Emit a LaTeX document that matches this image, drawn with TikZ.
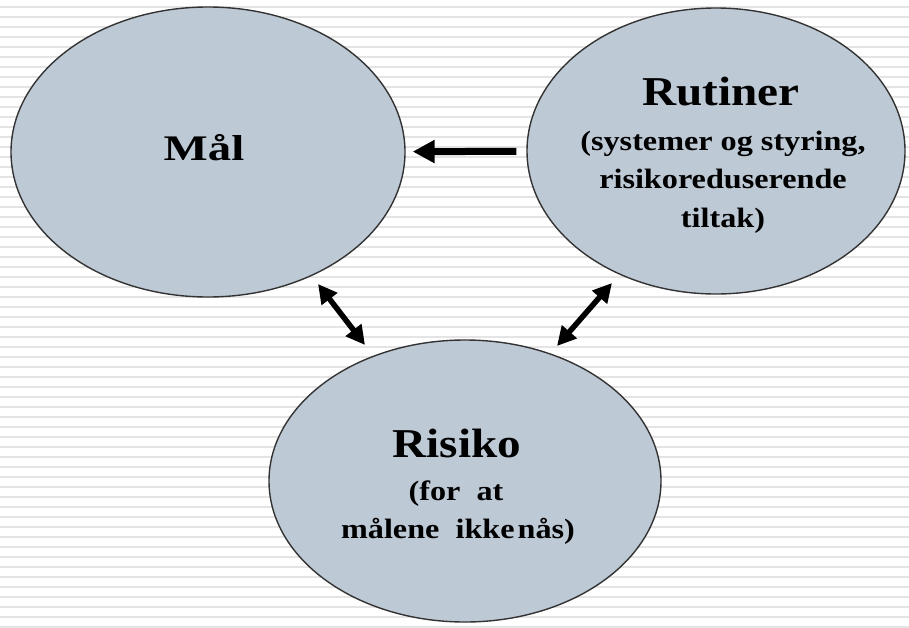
\documentclass[tikz,border=0pt]{standalone}
\usepackage{fontspec}
\setmainfont{Liberation Serif}
\newfontfamily\ttlfont[FakeStretch=1.15]{Liberation Serif}
\newfontfamily\malfont[FakeStretch=1.3]{Liberation Serif}
\newfontfamily\subfont[FakeStretch=1.15]{Liberation Serif}
\usetikzlibrary{shapes.geometric,arrows.meta}
\definecolor{ovalfill}{RGB}{190,201,214}
\definecolor{stripecol}{RGB}{228,228,228}
\begin{document}
\begin{tikzpicture}[x=1pt,y=-1pt,
  oval/.style={ellipse, draw=black!80, line width=1.4pt, fill=ovalfill, inner sep=0pt},
  titletext/.style={anchor=base, inner sep=0pt, font=\ttlfont\bfseries\fontsize{41}{41}\selectfont},
  subtext/.style={anchor=base, inner sep=0pt, font=\subfont\bfseries\fontsize{28}{28}\selectfont},
  bigarrow/.style={line width=7pt, -{Triangle[length=22pt,width=22pt]}},
  dblarrow/.style={line width=5.5pt, {Triangle[length=19pt,width=19pt]}-{Triangle[length=19pt,width=19pt]}},
  stripeline/.style={draw=stripecol, line width=1.8pt}]
\useasboundingbox (0,0) rectangle (909,627);
\fill[white] (0,0) rectangle (909,627);
\foreach \yy in {7,17,...,627} \draw[stripeline] (0,\yy) -- (909,\yy);

\node[oval, minimum width=394pt, minimum height=290pt] (mal) at (208,152) {};
\node[oval, minimum width=378pt, minimum height=286pt] (rutiner) at (716,151) {};
\node[oval, minimum width=392pt, minimum height=282pt] (risiko) at (465,481) {};

\node[anchor=base, inner sep=0pt, font=\malfont\bfseries\fontsize{36}{36}\selectfont] (maltxt) at (204,160) {Mål};

\node[titletext] (rut1) at (721,105) {Rutiner};
\node[subtext] (rut2) at (723,150) {(systemer og styring,};
\node[subtext] (rut3) at (723,188) {risikoreduserende};
\node[subtext] (rut4) at (723,227) {tiltak)};

\node[titletext] (ris1) at (457,457) {Risiko};
\node[subtext] (ris2) at (456,500) {(for\ \ at};
\node[subtext] (ris3) at (458,538) {målene\ \ ikke\hspace{3pt}nås)};

\draw[bigarrow, shorten <=10pt, shorten >=7pt] (rutiner) -- (mal);

\coordinate (d1a) at (318,284);
\coordinate (d1b) at (365,345);
\coordinate (d2a) at (612,283);
\coordinate (d2b) at (557,346);
\draw[dblarrow] (d1a) -- (d1b);
\draw[dblarrow] (d2a) -- (d2b);
\end{tikzpicture}
\end{document}
